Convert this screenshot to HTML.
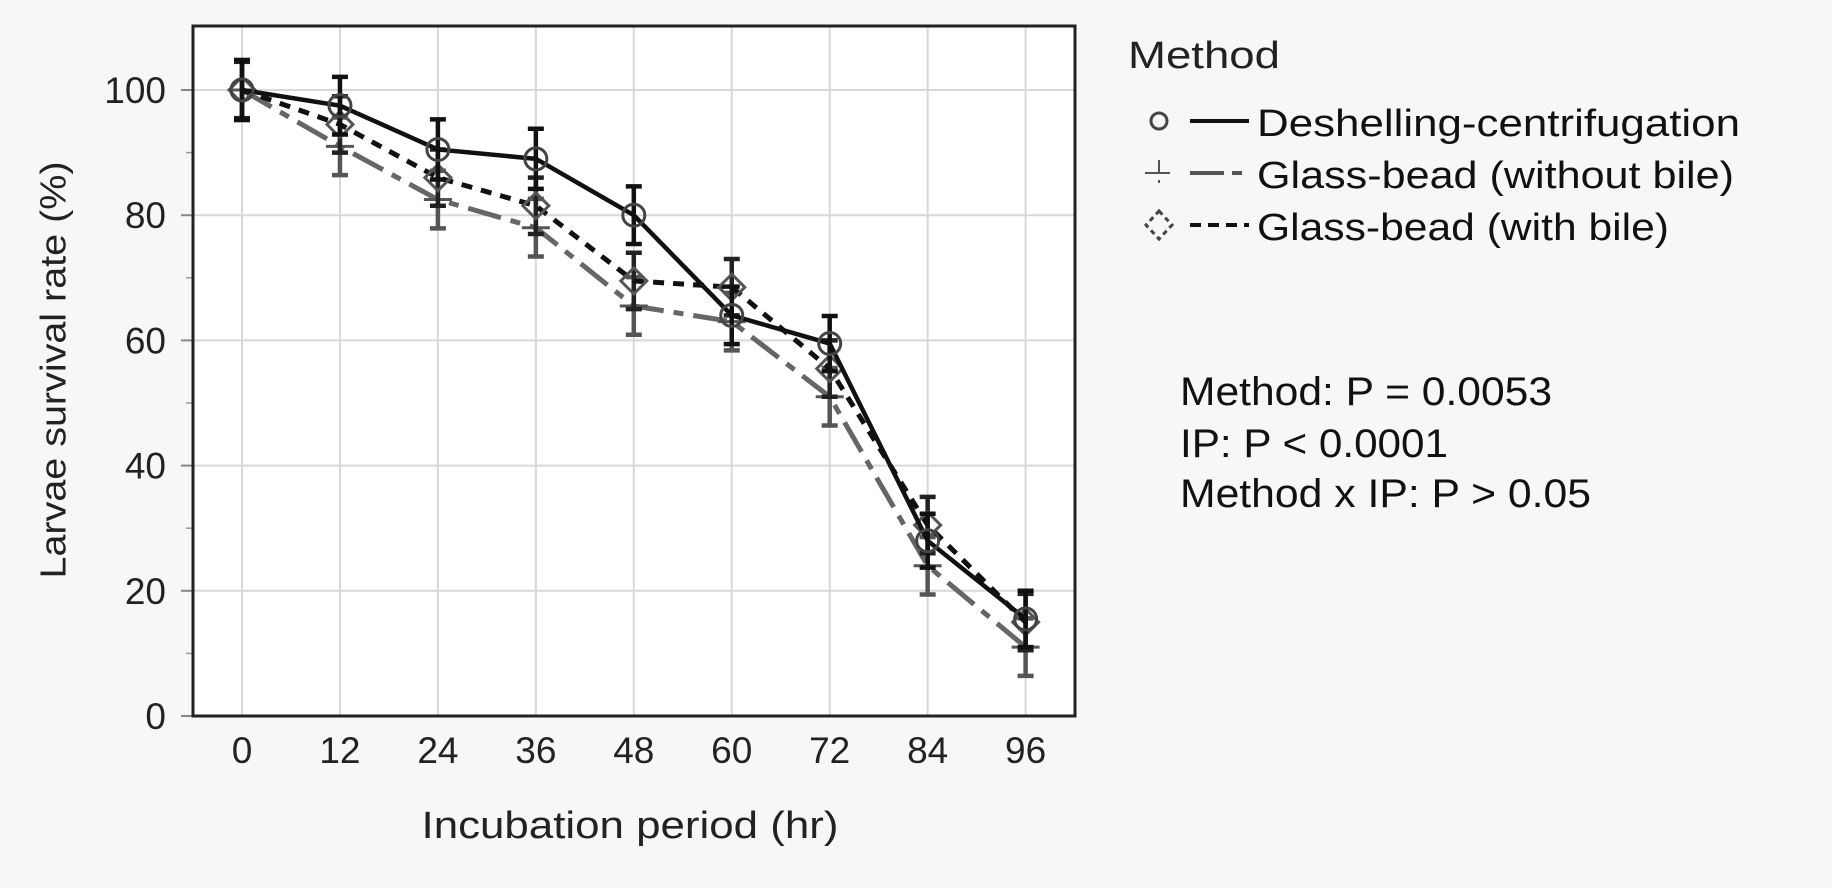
<!DOCTYPE html>
<html><head><meta charset="utf-8"><style>
html,body{margin:0;padding:0;background:#f7f7f7;}
svg{display:block;}
text{font-family:"Liberation Sans",sans-serif;}
</style></head><body>
<svg id="chart" width="1832" height="888" viewBox="0 0 1832 888">
<rect x="0" y="0" width="1832" height="888" fill="#f7f7f7"/>
<rect x="193" y="26" width="882" height="690" fill="#ffffff"/>
<g id="grid"></g>
<g id="yaxis"></g>
<g id="xaxis"></g>
<g id="series"></g>
<rect x="193" y="26" width="882" height="690" fill="none" stroke="#222" stroke-width="3"/>
<text x="53" y="370" transform="rotate(-90 53 370)" text-anchor="middle" dominant-baseline="central" font-size="36" fill="#222" textLength="417" lengthAdjust="spacingAndGlyphs">Larvae survival rate (%)</text>
<text x="630" y="838" text-anchor="middle" font-size="38" fill="#222" textLength="417" lengthAdjust="spacingAndGlyphs">Incubation period (hr)</text>
<g>
<text x="1128" y="68" font-size="38" fill="#222" textLength="152" lengthAdjust="spacingAndGlyphs">Method</text>
<g>
<circle cx="1159" cy="121" r="8" fill="none" stroke="#444" stroke-width="3"/>
<line x1="1190" y1="121" x2="1249" y2="121" stroke="#111" stroke-width="4"/>
<text x="1257" y="136" font-size="38" fill="#111" textLength="483" lengthAdjust="spacingAndGlyphs">Deshelling-centrifugation</text>
</g>
<g>
<line x1="1145" y1="173" x2="1170" y2="173" stroke="#555" stroke-width="2"/>
<line x1="1159" y1="160" x2="1159" y2="186" stroke="#555" stroke-width="2" stroke-dasharray="14 6 3"/>
<line x1="1190" y1="173" x2="1249" y2="173" stroke="#555" stroke-width="4" stroke-dasharray="34 8 10"/>
<text x="1257" y="188" font-size="38" fill="#111" textLength="477" lengthAdjust="spacingAndGlyphs">Glass-bead (without bile)</text>
</g>
<g>
<path d="M1159 211 L1172 225 L1159 239 L1146 225 Z" fill="none" stroke="#444" stroke-width="3" stroke-dasharray="5 4"/>
<line x1="1190" y1="225" x2="1249" y2="225" stroke="#111" stroke-width="4" stroke-dasharray="11 7"/>
<text x="1257" y="240" font-size="38" fill="#111" textLength="412" lengthAdjust="spacingAndGlyphs">Glass-bead (with bile)</text>
</g>
</g>
<g>
<text x="1180" y="405" font-size="40" fill="#111" textLength="372" lengthAdjust="spacingAndGlyphs">Method: P = 0.0053</text>
<text x="1180" y="457" font-size="40" fill="#111" textLength="268" lengthAdjust="spacingAndGlyphs">IP: P &lt; 0.0001</text>
<text x="1180" y="507" font-size="40" fill="#111" textLength="411" lengthAdjust="spacingAndGlyphs">Method x IP: P &gt; 0.05</text>
</g>
</svg>
<script>
const categories = [0, 12, 24, 36, 48, 60, 72, 84, 96];
const yTicks = [0, 20, 40, 60, 80, 100];
const yMinorTicks = [10, 30, 50, 70, 90];
const deshelling = [100, 97.5, 90.5, 89, 80, 64, 59.5, 28, 15.5];
const withoutBile = [100, 91, 82.5, 78, 65.5, 63, 51, 24, 11];
const withBile = [100, 94.5, 86, 81.5, 69.5, 68.5, 55.5, 30.5, 15];
const errDeshelling = [4.8, 4.6, 4.8, 4.8, 4.6, 4.6, 4.4, 4.3, 4.5];
const errWithoutBile = [4.6, 4.6, 4.6, 4.6, 4.6, 4.6, 4.6, 4.6, 4.6];
const errWithBile = [4.5, 4.5, 4.5, 4.5, 4.5, 4.5, 4.5, 4.5, 4.5];

const NS = 'http://www.w3.org/2000/svg';
function xs(v){ return 242 + (v - 0) * (1025.6 - 242) / 96; }
function ys(v){ return 716 - v * 6.26; }
function mk(tag, attrs, parent){
  const e = document.createElementNS(NS, tag);
  for (const k in attrs) e.setAttribute(k, attrs[k]);
  parent.appendChild(e);
  return e;
}
const grid = document.getElementById('grid');
const yaxis = document.getElementById('yaxis');
const xaxis = document.getElementById('xaxis');
const series = document.getElementById('series');

yTicks.forEach(t => {
  if (t > 0) {
    const g = mk('line', {x1:193, x2:1075, y1:ys(t), y2:ys(t), stroke:'#d8d8d8', 'stroke-width':2}, grid);
    
    
  }
  const tk = mk('line', {x1:181, x2:193, y1:ys(t), y2:ys(t), stroke:'#888', 'stroke-width':2}, yaxis);
  
  
  const lb = mk('text', {x:166, y:ys(t)+13, 'text-anchor':'end', 'font-size':37, fill:'#222'}, yaxis);
  lb.textContent = t;
  
  
});
yMinorTicks.forEach(t => {
  const tk = mk('line', {x1:186, x2:193, y1:ys(t), y2:ys(t), stroke:'#999', 'stroke-width':1.5}, yaxis);
  
  
});
categories.forEach(c => {
  const g = mk('line', {x1:xs(c), x2:xs(c), y1:26, y2:716, stroke:'#d8d8d8', 'stroke-width':2}, grid);
  
  
  const lb = mk('text', {x:xs(c), y:763, 'text-anchor':'middle', 'font-size':37, fill:'#222'}, xaxis);
  lb.textContent = c;
  
  
});

function drawSeries(name, vals, errs, lineStyle, marker, barColor){
  const g = mk('g', {}, series);
  
  
  vals.forEach((v, i) => {
    const x = xs(categories[i]);
    const eb = mk('g', {}, g);
    
    
    mk('line', {x1:x, x2:x, y1:ys(v+errs[i]), y2:ys(v-errs[i]), stroke:barColor, 'stroke-width':4.5}, eb);
    mk('line', {x1:x-8, x2:x+8, y1:ys(v+errs[i]), y2:ys(v+errs[i]), stroke:barColor, 'stroke-width':4.5}, eb);
    mk('line', {x1:x-8, x2:x+8, y1:ys(v-errs[i]), y2:ys(v-errs[i]), stroke:barColor, 'stroke-width':4.5}, eb);
  });
  const pts = vals.map((v, i) => xs(categories[i]) + ',' + ys(v)).join(' ');
  const pl = mk('polyline', Object.assign({points:pts, fill:'none'}, lineStyle), g);
  
  
  vals.forEach((v, i) => {
    const x = xs(categories[i]), y = ys(v);
    let m;
    if (marker === 'circle') {
      m = mk('circle', {cx:x, cy:y, r:11, fill:'none', stroke:'#444', 'stroke-width':3}, g);
    } else if (marker === 'plus') {
      m = mk('path', {d:`M${x-14} ${y} H${x+14} M${x} ${y-10} V${y+10}`, stroke:'#555', 'stroke-width':3, fill:'none'}, g);
    } else {
      m = mk('path', {d:`M${x} ${y-13} L${x+13} ${y} L${x} ${y+13} L${x-13} ${y} Z`, fill:'none', stroke:'#555', 'stroke-width':3}, g);
    }
    
    
  });
}
drawSeries('series-without-bile', withoutBile, errWithoutBile, {stroke:'#666', 'stroke-width':5, 'stroke-dasharray':'34 10 10 10'}, 'plus', '#555');
drawSeries('series-with-bile', withBile, errWithBile, {stroke:'#111', 'stroke-width':5, 'stroke-dasharray':'11 9'}, 'diamond', '#222');
drawSeries('series-deshelling', deshelling, errDeshelling, {stroke:'#111', 'stroke-width':4.5}, 'circle', '#111');
</script>
</body></html>
